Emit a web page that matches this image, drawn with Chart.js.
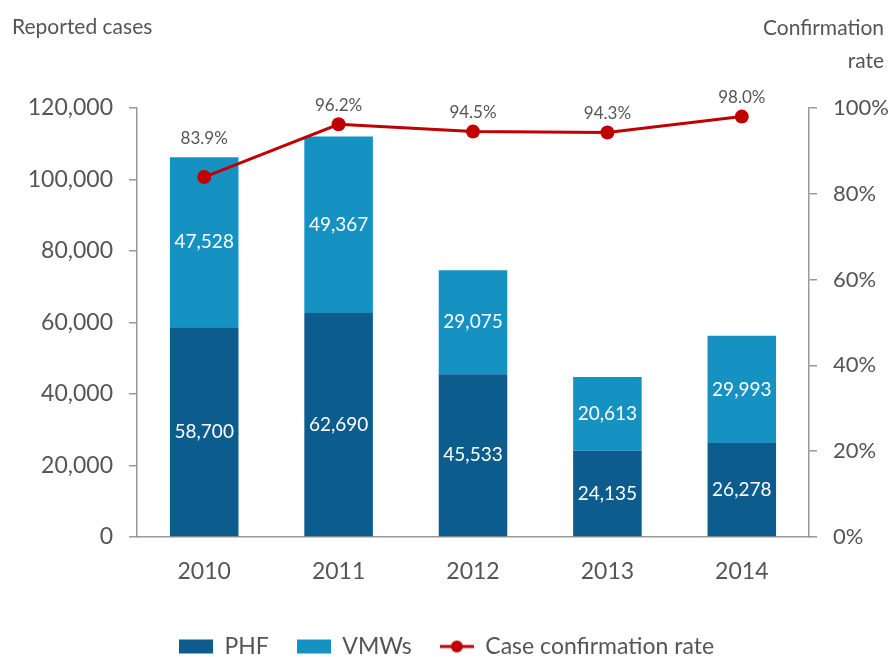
<!DOCTYPE html>
<html>
<head>
<meta charset="utf-8">
<script src="https://cdn.jsdelivr.net/npm/chart.js@4"></script>
<style>
  html, body { margin: 0; padding: 0; background: #fff; }
  #wrap { position: relative; width: 893px; height: 657px; }
</style>
</head>
<body>
<div id="wrap"><canvas id="chart" width="893" height="657"></canvas></div>
<script>
const years = ['2010', '2011', '2012', '2013', '2014'];
const phf = [58700, 62690, 45533, 24135, 26278];
const vmws = [47528, 49367, 29075, 20613, 29993];
const confirmRate = [83.9, 96.2, 94.5, 94.3, 98.0];
const leftTicks = [0, 20000, 40000, 60000, 80000, 100000, 120000];
const rightTicks = [0, 20, 40, 60, 80, 100];

const DARK = '#0c5d8e';
const LIGHT = '#1692c2';
const RED = '#c00000';
const GREY = '#555';
const FONT = 'Lato, "DejaVu Sans", sans-serif';

function legendIcon(kind, color) {
  const c = document.createElement('canvas');
  c.width = 34; c.height = 16;
  const g = c.getContext('2d');
  if (kind === 'rect') {
    g.fillStyle = color;
    g.fillRect(0, 1, 34, 14);
  } else {
    g.strokeStyle = color; g.lineWidth = 3;
    g.beginPath(); g.moveTo(0, 8); g.lineTo(34, 8); g.stroke();
    g.fillStyle = color;
    g.beginPath(); g.arc(17, 8, 6, 0, Math.PI * 2); g.fill();
  }
  return c;
}

const fmt = n => n.toLocaleString('en-US');

const labelPlugin = {
  id: 'labels',
  afterDatasetsDraw(chart) {
    const ctx = chart.ctx;
    ctx.save();
    ctx.textAlign = 'center';
    ctx.textBaseline = 'middle';
    ctx.font = '19px ' + FONT;
    ctx.fillStyle = '#fff';
    [0, 1].forEach(di => {
      const meta = chart.getDatasetMeta(di);
      meta.data.forEach((bar, i) => {
        const v = chart.data.datasets[di].data[i];
        ctx.fillText(fmt(v), bar.x, (bar.y + bar.base) / 2);
      });
    });
    const lineMeta = chart.getDatasetMeta(2);
    const topBars = chart.getDatasetMeta(1).data;
    ctx.font = '17px ' + FONT;
    ctx.fillStyle = GREY;
    lineMeta.data.forEach((pt, i) => {
      const top = Math.min(pt.y, topBars[i].y);
      ctx.fillText(confirmRate[i].toFixed(1) + '%', pt.x, top - 19);
    });
    // axis titles
    ctx.font = '21px ' + FONT;
    ctx.textAlign = 'left';
    ctx.fillText('Reported cases', 12, 27);
    ctx.textAlign = 'right';
    ctx.fillText('Confirmation', 884, 28);
    ctx.fillText('rate', 884, 61);
    ctx.restore();
  }
};

new Chart(document.getElementById('chart'), {
  type: 'bar',
  data: {
    labels: years,
    datasets: [
      { label: 'PHF', data: phf, backgroundColor: DARK, yAxisID: 'y', order: 1, stack: 's' },
      { label: 'VMWs', data: vmws, backgroundColor: LIGHT, yAxisID: 'y', order: 1, stack: 's' },
      {
        type: 'line', label: 'Case confirmation rate', data: confirmRate, yAxisID: 'y1', order: 0,
        borderColor: RED, backgroundColor: RED, borderWidth: 3, pointRadius: 7,
        pointBackgroundColor: RED, pointBorderWidth: 0, tension: 0
      }
    ]
  },
  options: {
    responsive: false,
    animation: false,
    layout: { padding: { top: 108, left: 0, right: 0, bottom: -11 } },
    datasets: { bar: { categoryPercentage: 1, barPercentage: 0.51 } },
    plugins: {
      tooltip: { enabled: false },
      legend: {
        position: 'bottom',
        labels: {
          usePointStyle: true,
          pointStyleWidth: 34,
          padding: 28,
          color: GREY,
          font: { family: FONT, size: 23 },
          generateLabels: () => [
            { text: 'PHF', pointStyle: legendIcon('rect', DARK), fontColor: GREY, lineWidth: 0, datasetIndex: 0 },
            { text: 'VMWs', pointStyle: legendIcon('rect', LIGHT), fontColor: GREY, lineWidth: 0, datasetIndex: 1 },
            { text: 'Case confirmation rate', pointStyle: legendIcon('line', RED), fontColor: GREY, lineWidth: 0, datasetIndex: 2 }
          ]
        }
      }
    },
    scales: {
      x: {
        stacked: true,
        grid: { drawOnChartArea: false, drawTicks: false },
        border: { display: true, color: '#999', width: 1.5 },
        ticks: { color: GREY, padding: 21, font: { family: FONT, size: 23 } },
        afterFit: s => { s.height = 70; }
      },
      y: {
        stacked: true,
        min: 0, max: 120000,
        afterBuildTicks: s => { s.ticks = leftTicks.map(v => ({ value: v })); },
        grid: { drawOnChartArea: false, drawTicks: true, tickLength: 8, color: '#999', lineWidth: 1.5 },
        border: { display: true, color: '#999', width: 1.5 },
        ticks: { color: GREY, padding: 16, font: { family: FONT, size: 23 }, callback: v => fmt(v) },
        afterFit: s => { s.width = 137; }
      },
      y1: {
        position: 'right',
        min: 0, max: 100,
        afterBuildTicks: s => { s.ticks = rightTicks.map(v => ({ value: v })); },
        grid: { drawOnChartArea: false, drawTicks: true, tickLength: 8, color: '#999', lineWidth: 1.5 },
        border: { display: true, color: '#999', width: 1.5 },
        ticks: { color: GREY, padding: 16, font: { family: FONT, size: 22 }, callback: v => v + '%' },
        afterFit: s => { s.width = 84; }
      }
    }
  },
  plugins: [labelPlugin]
});
</script>
</body>
</html>
